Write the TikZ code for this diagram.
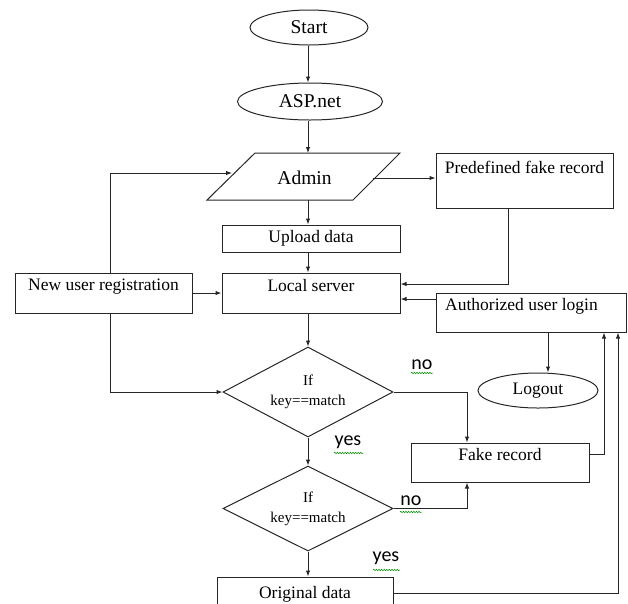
\documentclass[tikz,border=0pt]{standalone}
\usepackage{fontspec}
\setmainfont{Liberation Serif}
\newfontfamily\labfont{Carlito}
\usetikzlibrary{shapes.geometric,arrows.meta,decorations.pathmorphing}
\begin{document}
\begin{tikzpicture}[x=1pt,y=-1pt,
  ln/.style={draw=black!85,line width=1pt},
  arr/.style={ln,-{Latex[length=6pt,width=4.5pt]}},
  txt/.style={font=\fontsize{17.5}{20}\selectfont,inner sep=0pt},
  bigtxt/.style={font=\fontsize{19.5}{22}\selectfont,inner sep=0pt},
  dtxt/.style={font=\fontsize{15}{20}\selectfont,align=center,inner sep=0pt},
  box/.style={ln,rectangle,inner sep=0pt},
  oval/.style={ln,ellipse,inner sep=0pt},
  dia/.style={ln,diamond,aspect=1.9,inner sep=0pt,minimum width=170pt},
  yn/.style={font=\labfont\fontsize{20}{22}\selectfont,inner sep=0.5pt},
  wavy/.style={draw=green!55!black,line width=0.5pt,decorate,decoration={snake,amplitude=0.8pt,segment length=2.6pt}}
]
\useasboundingbox (0,0) rectangle (628,603);
\clip (0,0) rectangle (628,603);

% ellipses
\node[oval,minimum width=118pt,minimum height=35pt,bigtxt] (start) at (309,27.5) {Start};
\node[oval,minimum width=145pt,minimum height=37pt,bigtxt] (asp) at (310,101.5) {ASP.net};
\node[oval,minimum width=120pt,minimum height=35pt,txt] (lo) at (538,390.5) {Logout};

% admin parallelogram
\draw[ln] (255,153) -- (400,153) -- (353,200) -- (207,200) -- cycle;
\node[bigtxt] (admin) at (304.5,178) {Admin};
\coordinate (adminT) at (308,153);
\coordinate (adminB) at (308,200);
\coordinate (adminL) at (232,173);
\coordinate (adminR) at (373,178);

% boxes
\node[box,minimum width=178pt,minimum height=27pt,txt] (upl) at (311,238.5) {Upload data};
\node[box,minimum width=178pt,minimum height=40pt,
  label={[txt,yshift=7pt]center:Local server}] (ls) at (311,293) {};
\node[box,minimum width=177pt,minimum height=40pt,
  label={[txt,yshift=6pt]center:New user registration}] (nur) at (103.5,293) {};
\node[box,minimum width=177pt,minimum height=55pt,
  label={[txt,yshift=13.5pt]center:Predefined fake record}] (pfr) at (524.5,180.5) {};
\node[box,minimum width=190pt,minimum height=39pt,
  label={[txt,yshift=6pt,xshift=-9.5pt]center:Authorized user login}] (aul) at (531,312.5) {};
\node[box,minimum width=178pt,minimum height=39pt,
  label={[txt,yshift=7.5pt]center:Fake record}] (fr) at (500,462.5) {};
\node[box,minimum width=176pt,minimum height=40pt,
  label={[txt,yshift=3pt]center:Original data}] (od) at (305,597) {};

% diamonds
\node[dia,minimum height=90pt,dtxt] (d1) at (308,392) {If\\key==match};
\node[dia,minimum height=85pt,dtxt] (d2) at (308,508.5) {If\\key==match};

% connectors
\draw[arr] (start.south -| 308,0) -- (asp.north -| 308,0);
\draw[arr] (asp.south -| adminT) -- (adminT);
\draw[arr] (adminB) -- (adminB |- upl.north);
\draw[arr] (upl.south -| adminB) -- (ls.north -| adminB);
\draw[arr] (ls.south -| d1.north) -- (d1.north);
\draw[arr] (adminR) -- (adminR -| pfr.west);
\draw[arr] (pfr.south -| 508,0) |- (ls.east |- 0,284);
\draw[arr] (aul.west |- 0,299) -- (ls.east |- 0,299);
\draw[arr] (nur.north -| 110,0) |- (adminL);
\draw[arr] (nur.east) -- (ls.west);
\draw[arr] (nur.south -| 110,0) |- (d1.west);
\draw[arr] (aul.south -| 548,0) -- (lo.north -| 548,0);
\draw[arr] (d1.east) -| (fr.north -| 467,0);
\draw[arr] (fr.east |- 0,454) -| (aul.south -| 604,0);
\draw[arr] (d1.south) -- (d2.north);
\draw[arr] (d2.east) -| (fr.south -| 467,0);
\draw[arr] (d2.south) -- (d2.south |- od.north);
\draw[arr] (od.east |- 0,593) -| (aul.south -| 618,0);

% yes / no labels
\node[yn] (no1) at (422,365) {no};
\node[yn] (yes1) at (348,442) {yes};
\node[yn,fill=white] (no2) at (411,501) {no};
\node[yn] (yes2) at (386,558) {yes};
\draw[wavy] (411,373) -- (433,373);
\draw[wavy] (334,453) -- (363,453);
\draw[wavy] (400,512) -- (422,512);
\draw[wavy] (373,570) -- (400,570);
\end{tikzpicture}
\end{document}
